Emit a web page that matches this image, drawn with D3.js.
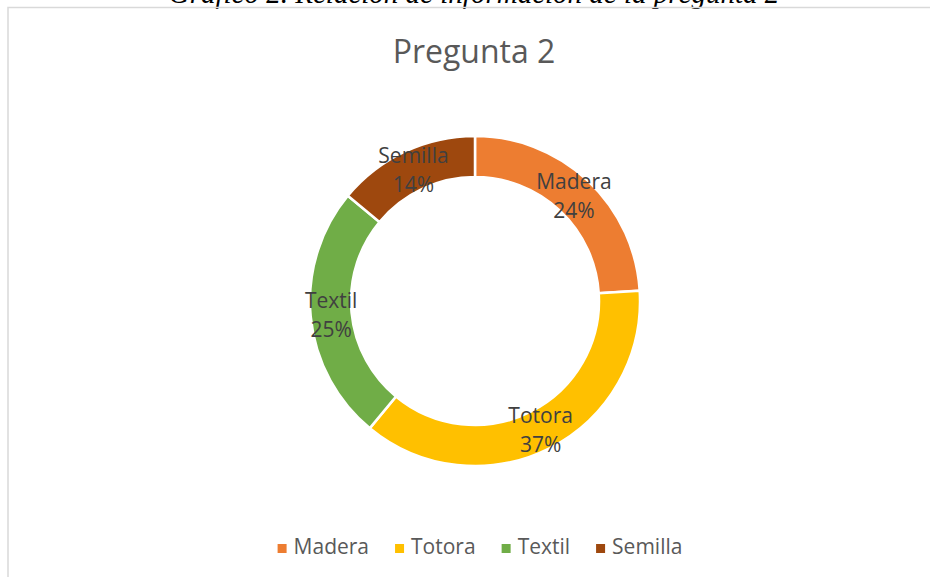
<!DOCTYPE html>
<html><head><meta charset="utf-8">
<script src="https://cdn.jsdelivr.net/npm/d3@7"></script>
<style>body{margin:0;background:#fff;}svg{display:block;}</style>
</head><body>
<svg id="c" width="930" height="577"></svg>
<script>
const caption = "Gráfico 2. Relación de información de la pregunta 2";
const title = "Pregunta 2";
const categories = ["Madera", "Totora", "Textil", "Semilla"];
const values = [24, 37, 25, 14];
const colors = ["#ED7D31", "#FFC000", "#70AD47", "#9E480E"];

const svg = d3.select("#c");
const W = 930, H = 577;

// caption (cropped at top, as in the reference)
const cap = svg.append("text").attr("x", 474).attr("y", 3)
  .attr("text-anchor", "middle")
  .style("font-family", "'Liberation Serif', 'DejaVu Serif', serif")
  .style("font-style", "italic").style("font-size", "26px").attr("fill", "#000")
  .text(caption);
const cl = cap.node().getComputedTextLength();
cap.style("font-size", (26 * 611 / cl) + "px");

// chart border
svg.append("path").attr("d", `M8,${H} V7.5 H${W}`).attr("fill", "none")
  .attr("stroke", "#d9d9d9").attr("stroke-width", 1.5);

svg.append("text").attr("x", 474).attr("y", 63).attr("text-anchor", "middle")
  .style("font-family", "'Open Sans', sans-serif").style("font-size", "32px")
  .attr("fill", "#595959").text(title);

const cx = 475, cy = 301, R = 165, r = 124;
const data = categories.map((c, i) => ({cat: c, v: values[i], col: colors[i]}));
const total = d3.sum(values);
const pie = d3.pie().value(d => d.v).sort(null);
const arc = d3.arc().innerRadius(r).outerRadius(R);
const g = svg.append("g").attr("transform", `translate(${cx},${cy})`);
const arcs = pie(data);
g.selectAll("path").data(arcs).join("path")
  .attr("d", arc).attr("fill", d => d.data.col)
  .attr("stroke", "#fff").attr("stroke-width", 2.5);

const lab = g.selectAll("text.lab").data(arcs).join("text").attr("class", "lab")
  .attr("text-anchor", "middle")
  .style("font-family", "'Open Sans', sans-serif").style("font-size", "21px")
  .attr("fill", "#404040")
  .attr("transform", d => { const c = arc.centroid(d); return `translate(${c[0]},${c[1]})`; });
lab.append("tspan").attr("x", 0).attr("y", -7).text(d => d.data.cat);
lab.append("tspan").attr("x", 0).attr("y", 22).text(d => Math.round(d.data.v / total * 100) + "%");

// legend
const leg = svg.append("g");
const items = leg.selectAll("g").data(data).join("g");
items.append("rect").attr("width", 9).attr("height", 9).attr("y", -10).attr("fill", d => d.col);
items.append("text").attr("x", 16).attr("y", 0)
  .style("font-family", "'Open Sans', sans-serif").style("font-size", "21px")
  .attr("fill", "#595959").text(d => d.cat);
let x = 0;
items.each(function() {
  const w = this.getBBox().width;
  d3.select(this).attr("transform", `translate(${x},0)`);
  x += w + 26;
});
const totalW = x - 26;
leg.attr("transform", `translate(${480 - totalW / 2},554)`);
</script>
</body></html>
